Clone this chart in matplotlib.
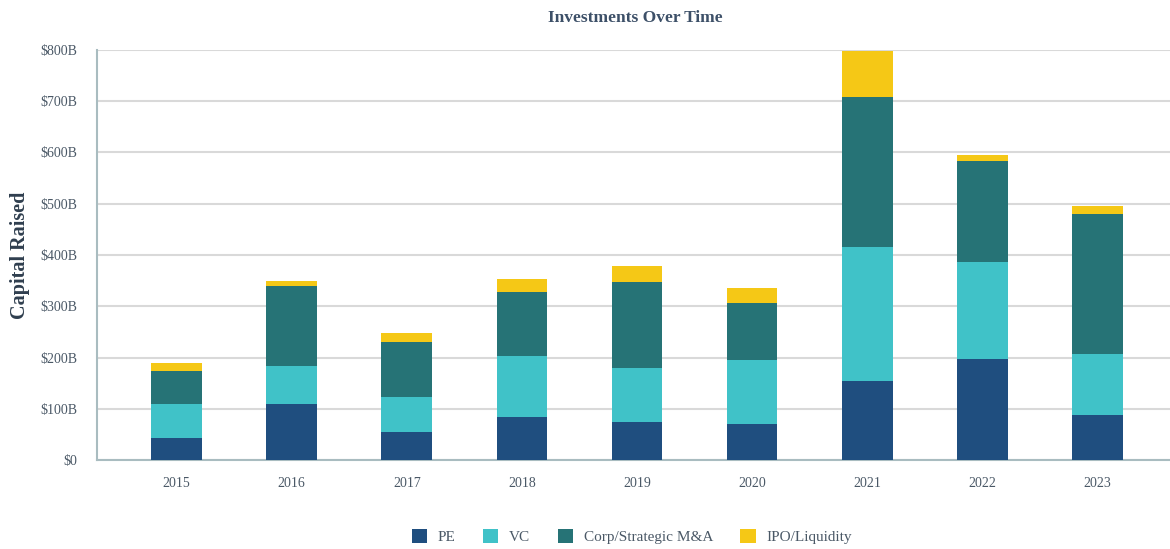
import matplotlib.pyplot as plt
import numpy as np

years = ['2015', '2016', '2017', '2018', '2019', '2020', '2021', '2022', '2023']
pe = [44, 110, 55, 84, 74, 70, 154, 197, 88]
vc = [65, 73, 68, 119, 105, 125, 262, 189, 118]
corp = [65, 157, 107, 124, 168, 111, 293, 198, 274]
ipo = [15, 9, 18, 26, 32, 29, 88, 11, 16]

series = [('PE', pe, '#1f4e7f'),
          ('VC', vc, '#40c2c8'),
          ('Corp/Strategic M&A', corp, '#267376'),
          ('IPO/Liquidity', ipo, '#f5c816')]

plt.rcParams['font.family'] = ['Liberation Serif', 'DejaVu Serif']

fig = plt.figure(figsize=(11.7, 5.49), dpi=100)
ax = fig.add_axes([0.083, 0.162, 0.917, 0.747])

x = np.arange(len(years))
bottom = np.zeros(len(years))
for name, vals, col in series:
    ax.bar(x, vals, width=0.44, bottom=bottom, color=col, label=name, zorder=3)
    bottom += np.array(vals)

ax.set_xlim(-0.69, 8.63)
ax.set_ylim(0, 800)
ax.set_yticks(range(0, 801, 100))
ax.set_yticklabels(['$0'] + [f'${v}B' for v in range(100, 801, 100)])
ax.set_xticks(x)
ax.set_xticklabels(years)
ax.tick_params(length=0, labelsize=10, colors='#4a5866')
ax.tick_params(axis='x', pad=12)
ax.tick_params(axis='y', pad=14)

ax.grid(axis='y', color='#d9d9d9', linewidth=1.5, zorder=0)
for s in ['top', 'right']:
    ax.spines[s].set_visible(False)
for s in ['left', 'bottom']:
    ax.spines[s].set_color('#a9bcc0')
    ax.spines[s].set_linewidth(1.5)

ax.set_ylabel('Capital Raised', fontsize=14.5, fontweight='bold', color='#2f3e4e', labelpad=8)
fig.text(0.543, 0.967, 'Investments Over Time', ha='center', va='center',
         fontsize=12.5, fontweight='bold', color='#3d5068')

fig.legend(loc='center', bbox_to_anchor=(0.54, 0.022), ncol=4, frameon=False,
           fontsize=11, handlelength=1.0, handleheight=1.0, handletextpad=0.7,
           columnspacing=1.8, labelcolor='#4a5866')

fig.savefig('out.png', dpi=100)
